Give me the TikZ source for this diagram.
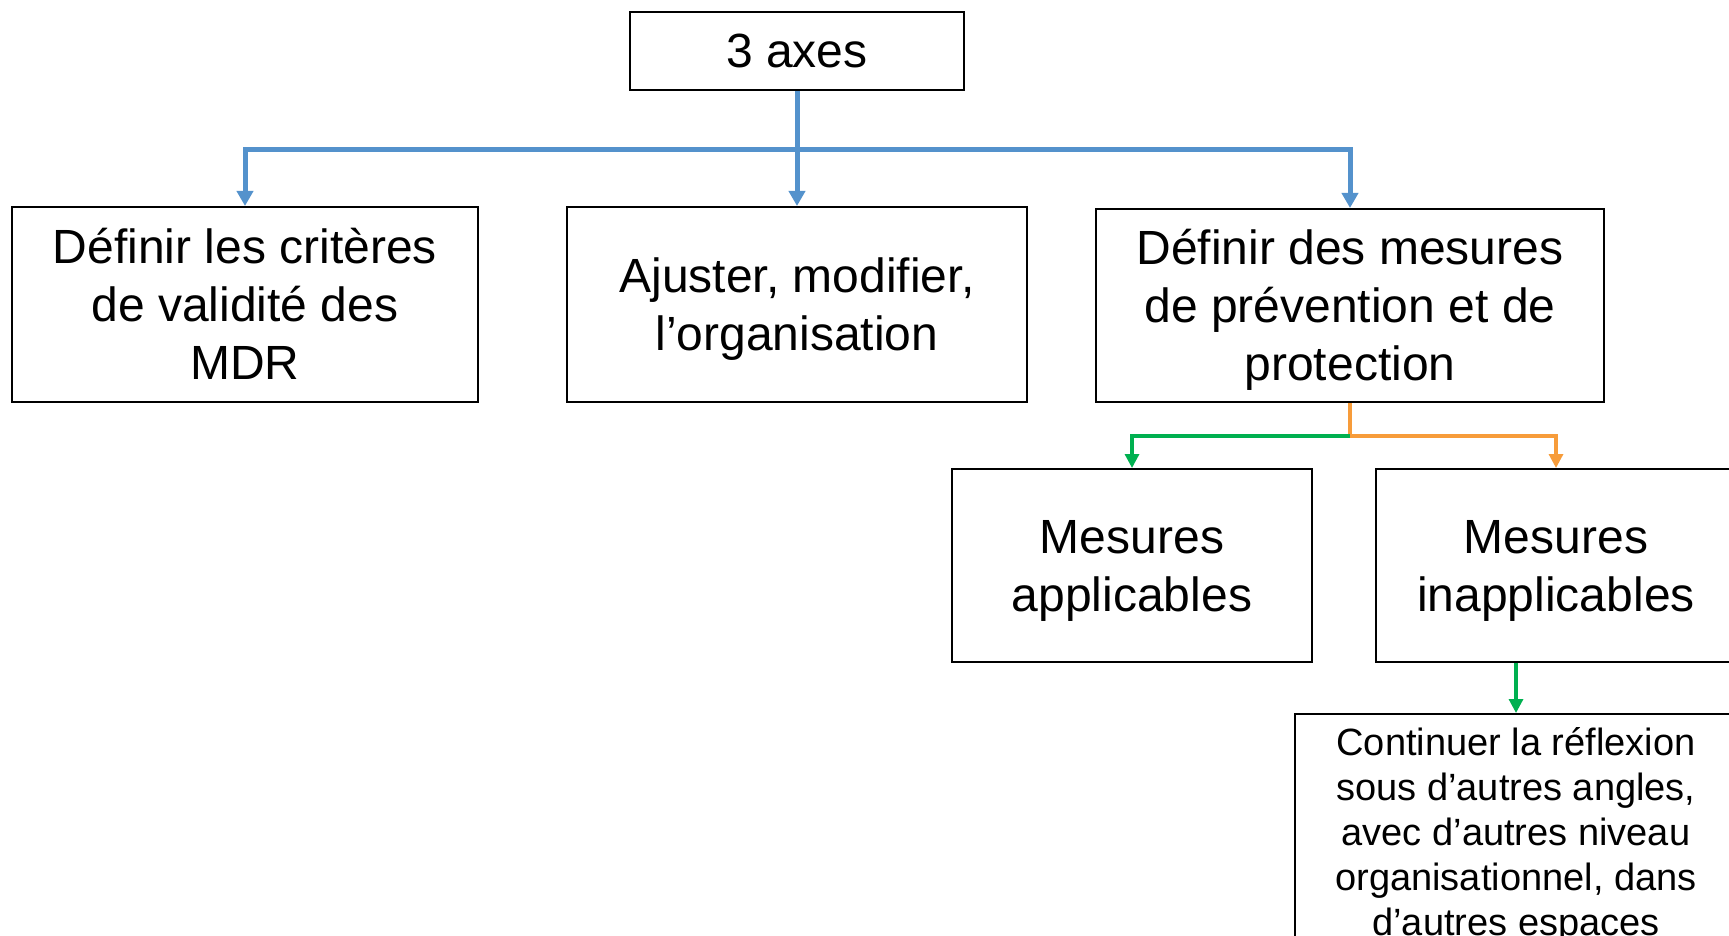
\documentclass[tikz,border=0pt]{standalone}
\usepackage{fontspec}
\setmainfont{Liberation Sans}
\usetikzlibrary{arrows.meta}
\definecolor{cblue}{RGB}{84,146,204}
\definecolor{cgreen}{RGB}{0,176,80}
\definecolor{corange}{RGB}{247,156,58}
\newcommand\ls{\rule[-0.212em]{0pt}{1.117em}}
\tikzset{
  box/.style={draw=black, line width=1pt, inner sep=0pt, align=center,
    font=\fontsize{24}{29}\selectfont},
  smallbox/.style={draw=black, line width=1pt, inner sep=0pt, align=center,
    font=\fontsize{19}{22.5}\selectfont},
  bluearrow/.style={draw=cblue, line width=2.5pt, -{Triangle[length=7.5pt,width=8pt]}},
  bluelink/.style={draw=cblue, line width=2.5pt},
  greenarrow/.style={draw=cgreen, line width=1.6pt, -{Triangle[length=7pt,width=7pt]}},
  orangearrow/.style={draw=corange, line width=1.6pt, -{Triangle[length=7pt,width=7pt]}},
  orangelink/.style={draw=corange, line width=1.6pt},
}
\begin{document}
\begin{tikzpicture}[x=0.5pt,y=-0.5pt]
\useasboundingbox (0,0) rectangle (1729,936);
\clip (0,0) rectangle (1729,936);
\fill[white] (0,0) rectangle (1729,936);

\node[box, minimum width=167pt, minimum height=39pt] (top) at (797,51) {3 axes};
\node[box, minimum width=233pt, minimum height=97.5pt] (left) at (245,304.5) {\ls Définir les critères\\\ls de validité des\\\ls MDR};
\node[box, minimum width=230pt, minimum height=97.5pt] (mid) at (797,304.5) {\ls Ajuster, modifier,\\\ls l’organisation};
\node[box, minimum width=254pt, minimum height=96.5pt] (right) at (1350,305.5) {\ls Définir des mesures\\\ls de prévention et de\\\ls protection};
\node[box, minimum width=180pt, minimum height=96.5pt] (appl) at (1132,565.5) {\ls Mesures\\\ls applicables};
\node[box, minimum width=180pt, minimum height=96.5pt] (inappl) at (1556,565.5) {\ls Mesures\\\ls inapplicables};
\node[smallbox, minimum width=221pt, minimum height=118pt] (cont) at (1516,832) {\ls Continuer la réflexion\\\ls sous d’autres angles,\\\ls avec d’autres niveau\\\ls organisationnel, dans\\\ls d’autres espaces};

\coordinate (j1) at (797,150);
\coordinate (j2) at (1350,436);

\draw[bluelink] (top.south) -- (j1);
\draw[bluearrow] (j1) -- (mid.north);
\draw[bluearrow] (j1) -| (left.north);
\draw[bluearrow] (j1) -| (right.north);

\draw[orangelink] (right.south) -- (j2);
\draw[orangearrow] (j2) -| (inappl.north);
\draw[greenarrow] (j2) -| (appl.north);

\draw[greenarrow] (cont.north |- inappl.south) -- (cont.north);
\end{tikzpicture}
\end{document}
